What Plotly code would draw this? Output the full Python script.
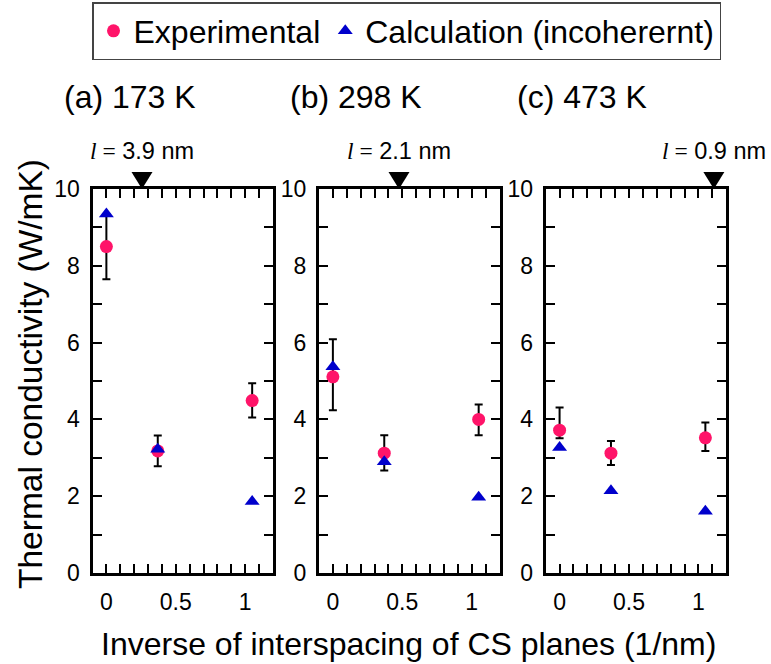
import plotly.graph_objects as go

# ---- data ----
x_pos = [0.0, 0.37, 1.05]
panels = ["(a) 173 K", "(b) 298 K", "(c) 473 K"]
exp_vals = [[8.5, 3.18, 4.49], [5.11, 3.12, 4.0], [3.72, 3.12, 3.52]]
exp_err_plus = [[0.85, 0.40, 0.45], [0.98, 0.47, 0.39], [0.59, 0.32, 0.40]]
exp_err_minus = [[0.85, 0.40, 0.44], [0.87, 0.45, 0.41], [0.21, 0.31, 0.34]]
calc_vals = [[9.35, 3.22, 1.86], [5.37, 2.90, 1.97], [3.27, 2.14, 1.61]]
l_nm = [3.9, 2.1, 0.9]
x_ticks = [0, 0.5, 1]
x_ticklabels = ["0", "0.5", "1"]
y_ticks = [0, 2, 4, 6, 8, 10]

W, H = 771, 664
FONT = "Arial, Liberation Sans, sans-serif"
PINK = "#FF1469"
BLUE = "#0000CC"

x_domains = [(92.5, 273.0), (319.0, 499.5), (545.7, 726.2)]
y_dom = (1 - 573 / H, 1 - 189 / H)

fig = go.Figure()
for i in range(3):
    sfx = "" if i == 0 else str(i + 1)
    xa, ya = "x" + sfx, "y" + sfx
    fig.add_trace(go.Scatter(
        x=x_pos, y=exp_vals[i], mode="markers", xaxis=xa, yaxis=ya,
        name="Experimental", showlegend=(i == 0),
        marker=dict(symbol="circle", size=13, color=PINK),
        error_y=dict(type="data", symmetric=False, array=exp_err_plus[i],
                     arrayminus=exp_err_minus[i], color="black", thickness=2, width=4),
    ))
    fig.add_trace(go.Scatter(
        x=x_pos, y=calc_vals[i], mode="markers", xaxis=xa, yaxis=ya,
        name="Calculation (incoherernt)", showlegend=(i == 0),
        marker=dict(symbol="triangle-up", size=13, color=BLUE),
    ))
    # indicator triangle at x = 1/l above the frame
    fig.add_shape(type="path", xref=xa, yref="paper", xsizemode="pixel", ysizemode="pixel",
                  xanchor=1 / l_nm[i], yanchor=y_dom[1],
                  path="M-10.5,17 L10.5,17 L0,0 Z", fillcolor="black",
                  line=dict(width=0), layer="above")
    fig.add_annotation(
        x=1 / l_nm[i], y=1 - 150.5 / H, xref=xa, yref="paper", showarrow=False,
        text="<span style='font-family:Liberation Serif'><i>l</i> =</span> %s nm" % l_nm[i],
        font=dict(size=23.5, color="black", family=FONT), xanchor="center", yanchor="middle",
    )
    d0, d1 = x_domains[i]
    fig.add_annotation(
        x=(d0 - 31) / W, y=1 - 97 / H, xref="paper", yref="paper", showarrow=False,
        text=panels[i], font=dict(size=32, color="black", family=FONT),
        xanchor="left", yanchor="middle",
    )
    axis_common = dict(showline=True, linewidth=3, linecolor="black", mirror="allticks",
                       ticks="inside", ticklen=9, tickwidth=2, tickcolor="black",
                       showgrid=False, zeroline=False, automargin=False,
                       tickfont=dict(size=23, color="black", family=FONT))
    fig.update_layout(**{
        "xaxis" + sfx: dict(domain=[d0 / W, d1 / W], range=[-0.1, 1.2], anchor=ya,
                            tickvals=x_ticks, ticktext=x_ticklabels, ticklabelstandoff=6,
                            minor=dict(dtick=0.1, tick0=0, ticks="inside", ticklen=9,
                                       tickwidth=2, tickcolor="black"),
                            **axis_common),
        "yaxis" + sfx: dict(domain=list(y_dom), range=[0, 10], anchor=xa,
                            tickvals=y_ticks, ticklabelstandoff=5,
                            minor=dict(dtick=1, tick0=0, ticks="inside", ticklen=9,
                                       tickwidth=2, tickcolor="black"),
                            **axis_common),
    })

fig.add_annotation(x=30 / W, y=1 - 374 / H, xref="paper", yref="paper", showarrow=False,
                   text="Thermal conductivity (W/mK)", textangle=-90,
                   font=dict(size=33.5, color="black", family=FONT),
                   xanchor="center", yanchor="middle")
fig.add_annotation(x=408 / W, y=1 - 644 / H, xref="paper", yref="paper", showarrow=False,
                   text="Inverse of interspacing of CS planes (1/nm)",
                   font=dict(size=32, color="black", family=FONT),
                   xanchor="center", yanchor="middle")

fig.update_layout(
    width=W, height=H, margin=dict(l=0, r=0, t=0, b=0, autoexpand=False),
    paper_bgcolor="white", plot_bgcolor="white",
    font=dict(family=FONT, color="black"),
    legend=dict(orientation="h", x=92 / W, y=1 - 2 / H, xanchor="left", yanchor="top",
                bordercolor="#444444", borderwidth=1.5, bgcolor="white",
                font=dict(size=32, color="black", family=FONT),
                itemsizing="trace"),
)
fig.write_html("out.html")
